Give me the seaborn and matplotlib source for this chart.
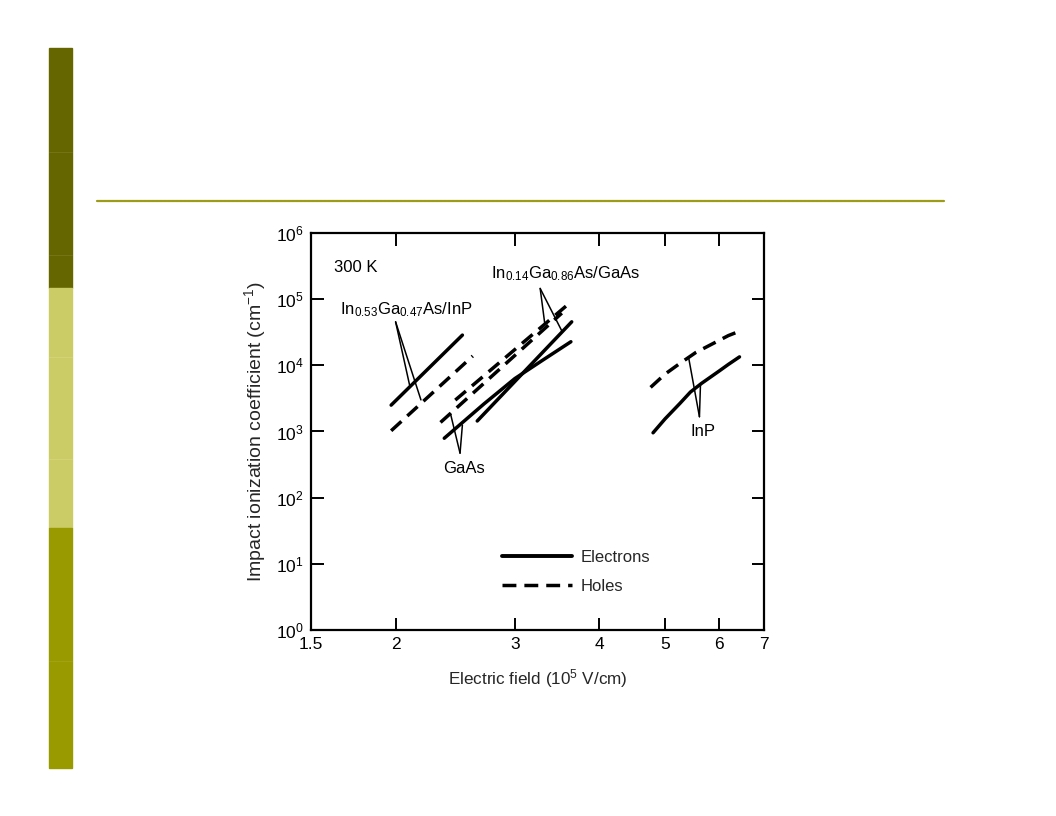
import pandas as pd
import matplotlib
matplotlib.use("Agg")
import matplotlib.pyplot as plt
from matplotlib.lines import Line2D
from matplotlib.patches import Rectangle
from matplotlib.ticker import FixedLocator, FixedFormatter, NullLocator, LogLocator
import seaborn as sns

# Impact ionization coefficients at 300 K
# field in 1e5 V/cm, coefficient in 1/cm
ingaas_inp_e_field = [1.97, 2.51]
ingaas_inp_e_alpha = [2500, 28600]
ingaas_inp_h_field = [1.97, 2.60]
ingaas_inp_h_alpha = [1025, 13800]

gaas_e_field = [2.36, 2.7, 3.0, 3.3, 3.63]
gaas_e_alpha = [790, 2600, 6300, 12000, 22700]
gaas_h_field = [2.33, 3.52]
gaas_h_alpha = [1370, 61500]

in14_e_field = [2.64, 3.64]
in14_e_alpha = [1440, 45400]
in14_h_field = [2.45, 3.57]
in14_h_alpha = [2980, 78400]

inp_e_field = [4.80, 5.0, 5.26, 5.45, 5.66, 6.0, 6.2, 6.44]
inp_e_alpha = [955, 1550, 2660, 3940, 5330, 8100, 10300, 13400]
inp_h_field = [4.76, 5.0, 5.26, 5.55, 5.89, 6.2, 6.50]
inp_h_alpha = [4640, 7360, 10700, 15600, 21400, 28100, 34000]

xtick_values = [1.5, 2, 3, 4, 5, 6, 7]
xtick_labels = ["1.5", "2", "3", "4", "5", "6", "7"]
carrier_names = ["Electrons", "Holes"]

curves = [
    ("InGaAs/InP e", "Electrons", ingaas_inp_e_field, ingaas_inp_e_alpha),
    ("InGaAs/InP h", "Holes", ingaas_inp_h_field, ingaas_inp_h_alpha),
    ("GaAs e", "Electrons", gaas_e_field, gaas_e_alpha),
    ("GaAs h", "Holes", gaas_h_field, gaas_h_alpha),
    ("In14 e", "Electrons", in14_e_field, in14_e_alpha),
    ("In14 h", "Holes", in14_h_field, in14_h_alpha),
    ("InP e", "Electrons", inp_e_field, inp_e_alpha),
    ("InP h", "Holes", inp_h_field, inp_h_alpha),
]
rows = []
for name, carrier, fields, alphas in curves:
    for f, a in zip(fields, alphas):
        rows.append({"curve": name, "carrier": carrier, "field": f, "alpha": a})
df = pd.DataFrame(rows)

sns.set_theme(style="ticks")
plt.rcParams["font.family"] = ["Liberation Sans", "DejaVu Sans"]
plt.rcParams["mathtext.default"] = "regular"

fig = plt.figure(figsize=(10.56, 8.16), dpi=100)

# slide decoration: coloured side bar and rule under the (empty) title
W, H = 1056.0, 816.0
bar_parts = [(48, 288, "#666600"), (288, 528, "#CCCC66"), (528, 768, "#999900")]
for top, bottom, col in bar_parts:
    fig.patches.append(Rectangle((49 / W, 1 - bottom / H), 23 / W, (bottom - top) / H,
                                 transform=fig.transFigure, color=col, zorder=0))
for yy, col in [(152, "#77771a"), (255, "#77771a"), (357, "#d4d47a"), (459, "#d4d47a"), (661, "#a3a31a")]:
    fig.add_artist(Line2D([49 / W, 72 / W], [1 - yy / H] * 2, color=col, lw=0.6))
fig.add_artist(Line2D([97 / W, 944 / W], [1 - 201 / H] * 2, color="#9C9C1A", lw=1.6))

ax = fig.add_axes([0.2945, 0.228, 0.429, 0.4865])
ax.set_xscale("log")
ax.set_yscale("log")

sns.lineplot(data=df, x="field", y="alpha", units="curve", style="carrier",
             estimator=None, sort=False, color="black", linewidth=2.5,
             dashes={"Electrons": "", "Holes": (4, 2.3)}, legend=False, ax=ax,
             solid_joinstyle="round")

ax.set_xlim(1.5, 7)
ax.set_ylim(1, 1e6)
ax.xaxis.set_major_locator(FixedLocator(xtick_values))
ax.xaxis.set_major_formatter(FixedFormatter(xtick_labels))
ax.xaxis.set_minor_locator(NullLocator())
ax.yaxis.set_major_locator(LogLocator(base=10, numticks=10))
ax.yaxis.set_minor_locator(NullLocator())

for sp in ax.spines.values():
    sp.set_linewidth(1.6)
    sp.set_color("black")
ax.tick_params(which="major", direction="in", top=True, right=True, length=9, width=1.4,
               labelsize=12.5, pad=5, colors="black")

ax.set_xlabel("Electric field (10$^{5}$ V/cm)", fontsize=12.3, labelpad=11)
ax.set_ylabel("Impact ionization coefficient (cm$^{-1}$)", fontsize=14, labelpad=6)

# curve labels with their pointer lines
txt_kw = dict(fontsize=12, color="black")
ax.text(1.62, 3.0e5, "300 K", ha="left", va="center", **txt_kw)
ax.text(1.656, 7.0e4, "In$_{0.53}$Ga$_{0.47}$As/InP", ha="left", va="center", **txt_kw)
ax.text(2.77, 2.4e5, "In$_{0.14}$Ga$_{0.86}$As/GaAs", ha="left", va="center", **txt_kw)
ax.text(2.52, 280, "GaAs", ha="center", va="center", **txt_kw)
ax.text(5.68, 990, "InP", ha="center", va="center", **txt_kw)

pointers = [
    ((2.00, 45400), [(2.10, 4750), (2.18, 3000)]),
    ((3.27, 145000), [(3.32, 44000), (3.52, 33000)]),
    ((2.49, 470), [(2.41, 1870), (2.51, 1250)]),
    ((5.62, 1670), [(5.42, 12700), (5.64, 5200)]),
]
for apex, targets in pointers:
    for tgt in targets:
        ax.annotate("", xy=tgt, xytext=apex,
                    arrowprops=dict(arrowstyle="-", color="black", lw=1.1,
                                    shrinkA=0, shrinkB=0))

handles = [Line2D([], [], color="black", lw=2.8),
           Line2D([], [], color="black", lw=2.5, dashes=(4, 2.3))]
ax.legend(handles, carrier_names, loc="center left", bbox_to_anchor=(0.4216, 0.146),
          frameon=False, handlelength=4.2, handletextpad=0.5, borderpad=0,
          borderaxespad=0, labelspacing=0.85, fontsize=12)

fig.savefig("out.png", dpi=100, facecolor="white")
